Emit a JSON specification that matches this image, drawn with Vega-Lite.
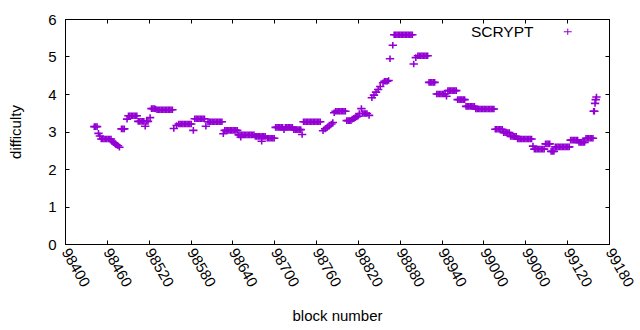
{
  "$schema": "https://vega.github.io/schema/vega-lite/v6.json",
  "width": 544,
  "height": 225,
  "autosize": {"type": "none"},
  "padding": {"left": 65, "top": 19, "right": 31, "bottom": 86},
  "background": "white",
  "config": {
    "view": {"stroke": "black", "strokeWidth": 1},
    "font": "Liberation Sans",
    "axis": {"grid": false, "domainColor": "black", "tickColor": "black", "labelColor": "#000000", "titleColor": "#000000", "labelFontSize": 15, "titleFontSize": 15, "titleFontWeight": "normal", "tickSize": -4, "labelFont": "Liberation Sans", "titleFont": "Liberation Sans"}
  },
  "data": {"values": [
    {"b":98442,"d":3.13},{"b":98444,"d":3.13},{"b":98446,"d":3.13},
    {"b":98448,"d":2.95},{"b":98450,"d":2.88},
    {"b":98452,"d":2.8},{"b":98454,"d":2.8},{"b":98456,"d":2.8},{"b":98458,"d":2.8},{"b":98460,"d":2.8},{"b":98462,"d":2.8},{"b":98464,"d":2.8},{"b":98466,"d":2.8},
    {"b":98468,"d":2.74},{"b":98470,"d":2.7},{"b":98472,"d":2.67},{"b":98474,"d":2.64},{"b":98476,"d":2.62},{"b":98478,"d":2.58},
    {"b":98481,"d":3.07},{"b":98483,"d":3.07},{"b":98485,"d":3.07},
    {"b":98489,"d":3.33},{"b":98491,"d":3.42},{"b":98493,"d":3.42},{"b":98495,"d":3.42},{"b":98497,"d":3.42},{"b":98499,"d":3.42},{"b":98501,"d":3.42},{"b":98503,"d":3.42},
    {"b":98505,"d":3.27},{"b":98507,"d":3.27},{"b":98509,"d":3.27},{"b":98511,"d":3.27},{"b":98513,"d":3.27},{"b":98515,"d":3.14},{"b":98517,"d":3.27},{"b":98519,"d":3.27},{"b":98522,"d":3.37},
    {"b":98524,"d":3.61},{"b":98526,"d":3.61},{"b":98528,"d":3.61},{"b":98530,"d":3.6},{"b":98532,"d":3.58},{"b":98534,"d":3.58},{"b":98536,"d":3.58},{"b":98538,"d":3.58},{"b":98540,"d":3.58},{"b":98542,"d":3.58},{"b":98544,"d":3.58},{"b":98546,"d":3.58},{"b":98548,"d":3.58},{"b":98550,"d":3.58},{"b":98552,"d":3.58},{"b":98554,"d":3.58},
    {"b":98556,"d":3.08},{"b":98560,"d":3.16},{"b":98563,"d":3.2},{"b":98565,"d":3.2},{"b":98567,"d":3.2},{"b":98569,"d":3.2},{"b":98571,"d":3.2},{"b":98573,"d":3.2},{"b":98575,"d":3.2},{"b":98577,"d":3.2},{"b":98579,"d":3.2},{"b":98581,"d":3.2},
    {"b":98584,"d":3.03},
    {"b":98586,"d":3.34},{"b":98588,"d":3.34},{"b":98590,"d":3.34},{"b":98592,"d":3.34},{"b":98594,"d":3.34},{"b":98596,"d":3.34},{"b":98598,"d":3.34},{"b":98600,"d":3.34},
    {"b":98602,"d":3.14},{"b":98605,"d":3.26},{"b":98607,"d":3.26},{"b":98609,"d":3.26},{"b":98611,"d":3.26},{"b":98613,"d":3.26},{"b":98615,"d":3.26},{"b":98617,"d":3.26},{"b":98619,"d":3.26},{"b":98621,"d":3.26},{"b":98623,"d":3.26},{"b":98625,"d":3.26},
    {"b":98627,"d":2.94},{"b":98629,"d":3.03},{"b":98631,"d":3.03},{"b":98633,"d":3.03},{"b":98635,"d":3.03},{"b":98637,"d":3.03},{"b":98639,"d":3.03},{"b":98641,"d":3.03},{"b":98643,"d":3.03},{"b":98645,"d":3.03},{"b":98647,"d":3.03},
    {"b":98649,"d":2.91},{"b":98651,"d":2.91},{"b":98652,"d":2.85},{"b":98653,"d":2.91},{"b":98655,"d":2.91},{"b":98657,"d":2.91},{"b":98659,"d":2.91},{"b":98661,"d":2.91},{"b":98663,"d":2.91},{"b":98665,"d":2.91},{"b":98667,"d":2.91},{"b":98669,"d":2.91},{"b":98671,"d":2.91},
    {"b":98673,"d":2.87},{"b":98675,"d":2.87},{"b":98677,"d":2.87},{"b":98679,"d":2.87},{"b":98681,"d":2.87},{"b":98682,"d":2.74},{"b":98683,"d":2.87},{"b":98685,"d":2.87},{"b":98687,"d":2.87},
    {"b":98690,"d":2.82},{"b":98692,"d":2.82},{"b":98694,"d":2.82},{"b":98696,"d":2.82},{"b":98698,"d":2.82},{"b":98700,"d":2.82},
    {"b":98702,"d":3.11},{"b":98704,"d":3.11},{"b":98706,"d":3.11},{"b":98708,"d":3.11},{"b":98710,"d":3.11},{"b":98712,"d":3.11},{"b":98714,"d":3.05},{"b":98716,"d":3.11},{"b":98718,"d":3.11},{"b":98720,"d":3.11},{"b":98722,"d":3.11},{"b":98724,"d":3.11},{"b":98726,"d":3.11},
    {"b":98728,"d":3.05},{"b":98730,"d":3.05},{"b":98732,"d":3.05},{"b":98734,"d":3.05},{"b":98736,"d":3.05},{"b":98738,"d":3.05},{"b":98740,"d":2.92},
    {"b":98742,"d":3.26},{"b":98744,"d":3.26},{"b":98746,"d":3.26},{"b":98748,"d":3.26},{"b":98750,"d":3.26},{"b":98752,"d":3.26},{"b":98754,"d":3.26},{"b":98756,"d":3.26},{"b":98758,"d":3.26},{"b":98760,"d":3.26},{"b":98762,"d":3.26},{"b":98764,"d":3.26},{"b":98766,"d":3.26},
    {"b":98770,"d":3.02},{"b":98773,"d":3.07},{"b":98776,"d":3.11},{"b":98779,"d":3.15},{"b":98782,"d":3.2},{"b":98784,"d":3.24},
    {"b":98786,"d":3.5},{"b":98788,"d":3.54},{"b":98790,"d":3.54},{"b":98792,"d":3.54},{"b":98794,"d":3.54},{"b":98796,"d":3.54},{"b":98798,"d":3.54},{"b":98800,"d":3.54},{"b":98802,"d":3.54},
    {"b":98804,"d":3.29},{"b":98806,"d":3.29},{"b":98808,"d":3.29},{"b":98810,"d":3.29},{"b":98812,"d":3.33},{"b":98814,"d":3.35},{"b":98816,"d":3.37},{"b":98818,"d":3.39},{"b":98820,"d":3.41},
    {"b":98822,"d":3.48},{"b":98825,"d":3.61},{"b":98827,"d":3.48},{"b":98829,"d":3.48},{"b":98831,"d":3.48},{"b":98833,"d":3.48},{"b":98836,"d":3.43},
    {"b":98840,"d":3.9},{"b":98843,"d":3.97},{"b":98846,"d":4.05},{"b":98849,"d":4.12},{"b":98852,"d":4.2},{"b":98856,"d":4.3},{"b":98858,"d":4.34},{"b":98860,"d":4.34},{"b":98862,"d":4.34},{"b":98864,"d":4.36},
    {"b":98866,"d":4.94},{"b":98870,"d":5.3},
    {"b":98872,"d":5.58},{"b":98874,"d":5.58},{"b":98876,"d":5.58},{"b":98878,"d":5.58},{"b":98880,"d":5.58},{"b":98882,"d":5.58},{"b":98884,"d":5.58},{"b":98886,"d":5.58},{"b":98888,"d":5.58},{"b":98890,"d":5.58},{"b":98892,"d":5.58},{"b":98894,"d":5.58},{"b":98896,"d":5.58},{"b":98898,"d":5.58},
    {"b":98900,"d":4.8},{"b":98903,"d":4.97},{"b":98906,"d":5.02},{"b":98908,"d":5.02},{"b":98910,"d":5.02},{"b":98912,"d":5.02},{"b":98914,"d":5.02},{"b":98916,"d":5.02},{"b":98918,"d":5.02},{"b":98920,"d":5.02},
    {"b":98922,"d":4.31},{"b":98924,"d":4.31},{"b":98926,"d":4.31},{"b":98928,"d":4.31},{"b":98930,"d":4.31},
    {"b":98933,"d":4.0},{"b":98935,"d":4.0},{"b":98937,"d":4.0},{"b":98939,"d":4.0},{"b":98941,"d":4.0},{"b":98943,"d":4.0},{"b":98945,"d":4.0},{"b":98947,"d":3.94},
    {"b":98949,"d":4.09},{"b":98951,"d":4.09},{"b":98953,"d":4.09},{"b":98955,"d":4.09},{"b":98957,"d":4.09},{"b":98959,"d":4.09},{"b":98961,"d":4.09},
    {"b":98963,"d":3.85},{"b":98965,"d":3.85},{"b":98967,"d":3.85},{"b":98969,"d":3.85},{"b":98971,"d":3.85},{"b":98973,"d":3.85},
    {"b":98975,"d":3.67},{"b":98977,"d":3.67},{"b":98979,"d":3.67},{"b":98981,"d":3.67},{"b":98983,"d":3.67},{"b":98985,"d":3.67},{"b":98987,"d":3.67},
    {"b":98989,"d":3.6},{"b":98991,"d":3.6},{"b":98993,"d":3.6},{"b":98995,"d":3.6},{"b":98997,"d":3.6},{"b":98999,"d":3.6},{"b":99001,"d":3.6},{"b":99003,"d":3.6},{"b":99005,"d":3.6},{"b":99007,"d":3.6},{"b":99009,"d":3.6},{"b":99011,"d":3.6},{"b":99013,"d":3.6},{"b":99015,"d":3.6},
    {"b":99017,"d":3.06},{"b":99019,"d":3.06},{"b":99021,"d":3.06},{"b":99023,"d":3.06},{"b":99025,"d":3.06},{"b":99027,"d":3.06},
    {"b":99029,"d":2.97},{"b":99031,"d":2.97},{"b":99033,"d":2.97},{"b":99035,"d":2.97},{"b":99037,"d":2.97},
    {"b":99039,"d":2.87},{"b":99041,"d":2.87},{"b":99043,"d":2.87},{"b":99045,"d":2.87},{"b":99047,"d":2.87},
    {"b":99049,"d":2.8},{"b":99051,"d":2.8},{"b":99053,"d":2.8},{"b":99055,"d":2.8},{"b":99057,"d":2.8},{"b":99059,"d":2.8},{"b":99061,"d":2.8},{"b":99063,"d":2.8},{"b":99065,"d":2.8},{"b":99067,"d":2.8},{"b":99069,"d":2.8},
    {"b":99071,"d":2.61},{"b":99073,"d":2.53},{"b":99075,"d":2.53},{"b":99077,"d":2.53},{"b":99079,"d":2.53},{"b":99081,"d":2.53},{"b":99083,"d":2.53},{"b":99085,"d":2.53},{"b":99087,"d":2.53},
    {"b":99089,"d":2.67},{"b":99091,"d":2.67},{"b":99093,"d":2.67},{"b":99095,"d":2.67},{"b":99097,"d":2.47},{"b":99099,"d":2.47},{"b":99101,"d":2.47},
    {"b":99103,"d":2.59},{"b":99105,"d":2.59},{"b":99107,"d":2.59},{"b":99109,"d":2.59},{"b":99111,"d":2.59},{"b":99113,"d":2.59},{"b":99115,"d":2.59},{"b":99117,"d":2.59},{"b":99119,"d":2.59},{"b":99121,"d":2.59},{"b":99123,"d":2.59},
    {"b":99125,"d":2.77},{"b":99127,"d":2.77},{"b":99129,"d":2.77},{"b":99131,"d":2.77},{"b":99133,"d":2.77},{"b":99135,"d":2.77},
    {"b":99137,"d":2.71},{"b":99139,"d":2.71},{"b":99141,"d":2.71},{"b":99143,"d":2.71},{"b":99145,"d":2.71},
    {"b":99147,"d":2.82},{"b":99149,"d":2.82},{"b":99151,"d":2.82},{"b":99153,"d":2.82},{"b":99155,"d":2.82},{"b":99157,"d":2.82},
    {"b":99158,"d":3.54},{"b":99159,"d":3.54},{"b":99160,"d":3.75},{"b":99161,"d":3.85},{"b":99162,"d":3.92}
  ]},
  "layer": [
    {
      "mark": {"type": "point", "shape": "M-1,0H1M0,-0.8V0.8", "filled": false, "strokeWidth": 1.6, "size": 70, "opacity": 1},
      "encoding": {
        "x": {"field": "b", "type": "quantitative", "scale": {"domain": [98400, 99180], "nice": false, "zero": false},
              "axis": {"values": [98400,98460,98520,98580,98640,98700,98760,98820,98880,98940,99000,99060,99120,99180], "format": "d", "title": "block number", "labelAngle": 60, "labelAlign": "left", "labelBaseline": "middle", "labelPadding": 9, "titlePadding": 19, "labelOverlap": false, "labelFlush": false}},
        "y": {"field": "d", "type": "quantitative", "scale": {"domain": [0, 6], "nice": false},
              "axis": {"values": [0,1,2,3,4,5,6], "title": "difficulty", "labelPadding": 13, "titlePadding": 24, "labelFlush": false}},
        "color": {"datum": "SCRYPT", "type": "nominal", "scale": {"range": ["#9400d3"]},
                  "legend": {"title": null, "orient": "none", "legendX": 495, "legendY": 5, "padding": 0, "symbolType": "M-1,0H1M0,-0.8V0.8", "symbolSize": 64, "symbolStrokeWidth": 1, "symbolFillColor": "transparent", "symbolStrokeColor": "#9400d3", "labelFontSize": 15.5, "labelAlign": "right", "labelOffset": -42, "labelColor": "#000000", "labelFont": "Liberation Sans"}}
      }
    },
    {
      "mark": {"type": "point", "opacity": 0},
      "encoding": {
        "x": {"field": "b", "type": "quantitative", "axis": {"orient": "top", "values": [98400,98460,98520,98580,98640,98700,98760,98820,98880,98940,99000,99060,99120,99180], "labels": false, "title": null}},
        "y": {"field": "d", "type": "quantitative", "axis": {"orient": "right", "values": [0,1,2,3,4,5,6], "labels": false, "title": null}}
      }
    }
  ],
  "resolve": {"axis": {"x": "independent", "y": "independent"}}
}
